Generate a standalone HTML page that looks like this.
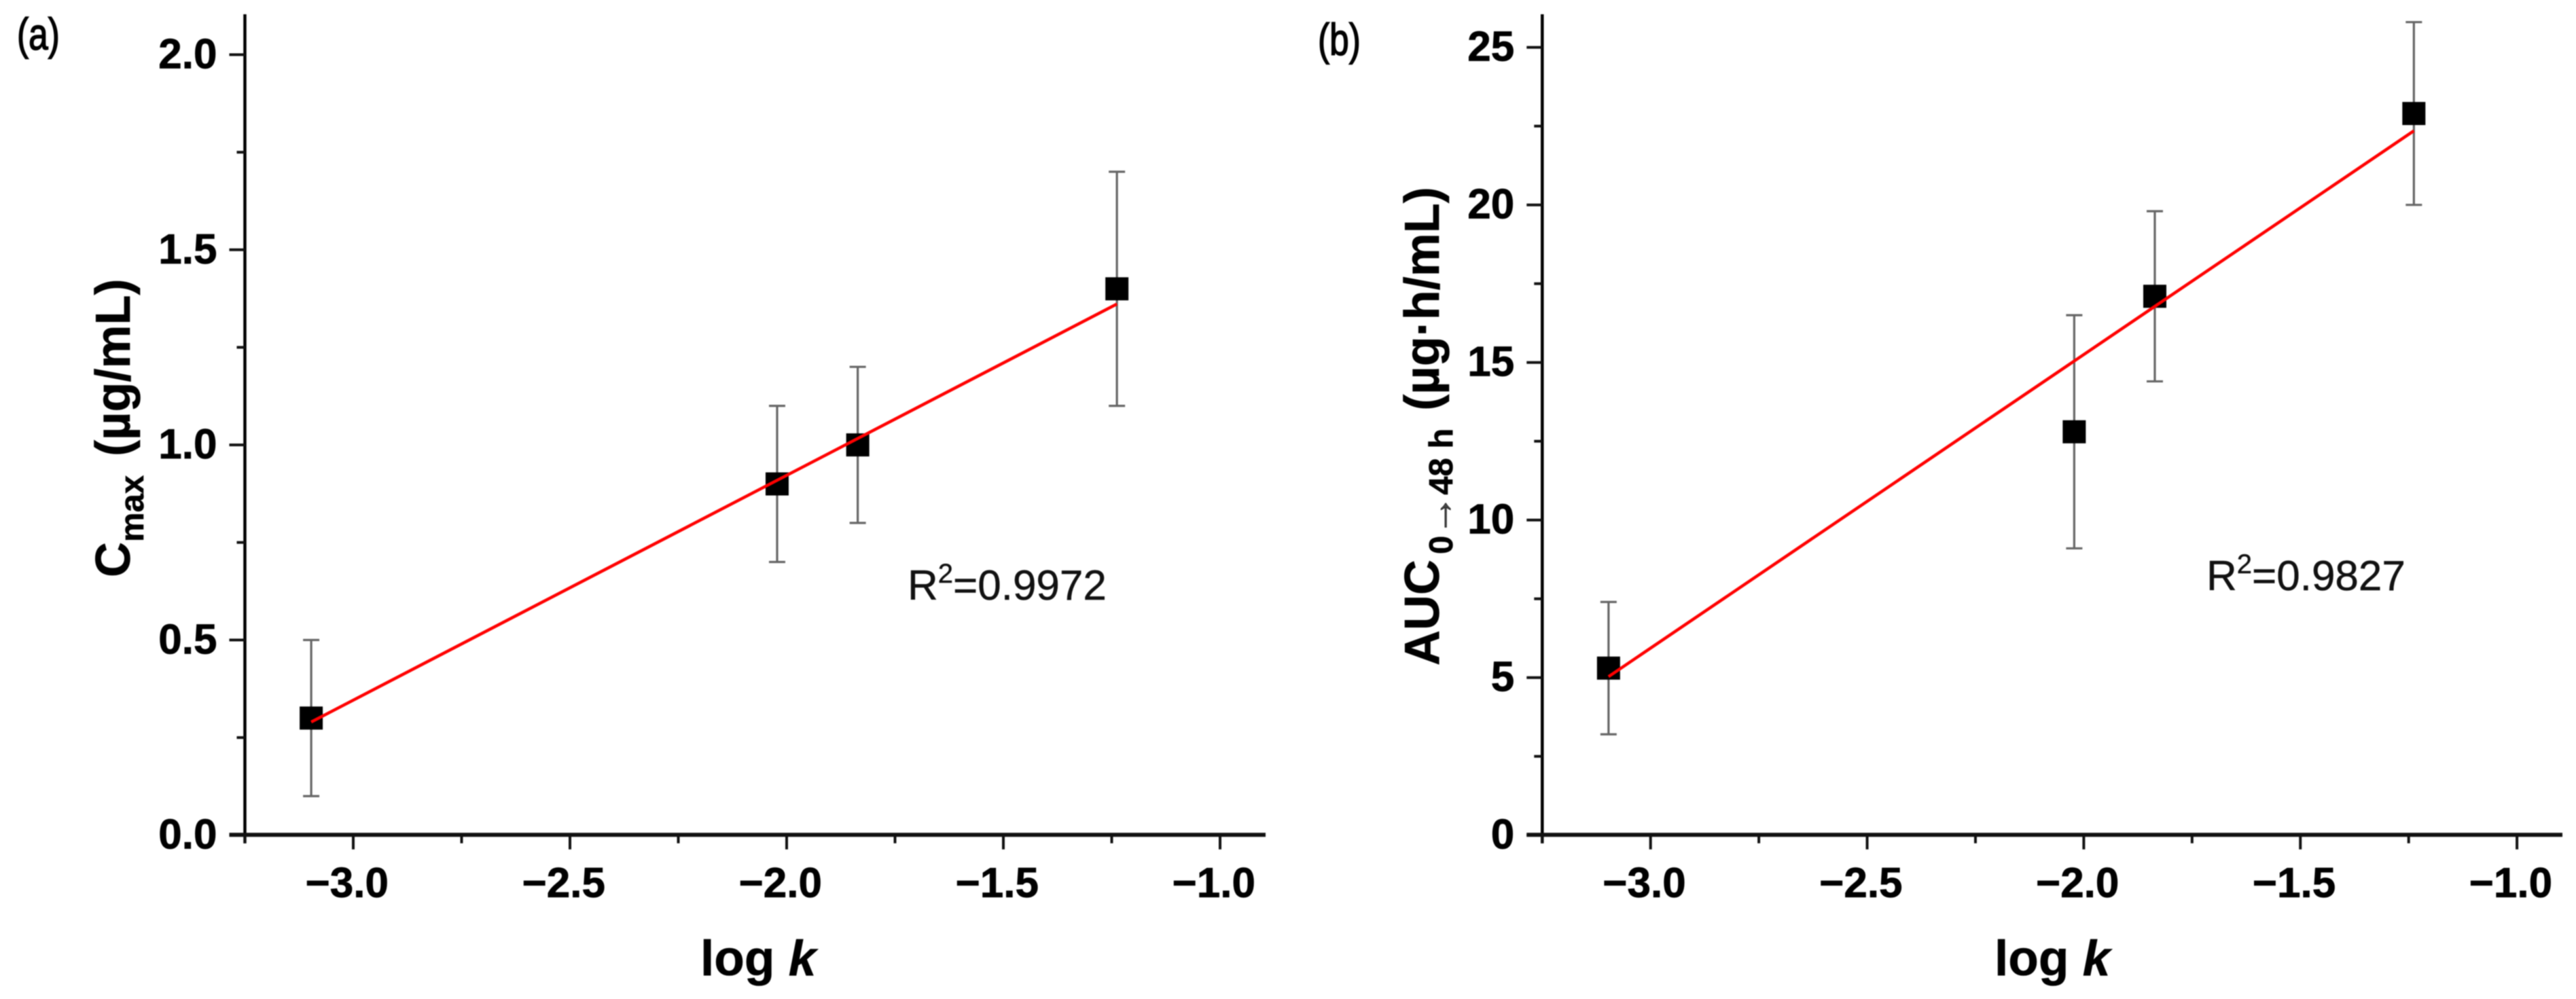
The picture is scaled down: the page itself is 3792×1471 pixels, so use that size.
<!DOCTYPE html>
<html lang="en">
<head>
<meta charset="utf-8">
<title>Cmax and AUC versus log k</title>
<style>
  html, body { margin: 0; padding: 0; background: #fff; }
  body { width: 3792px; height: 1471px; overflow: hidden; }
  svg { display: block; filter: blur(0.8px); }
  text { font-family: "Liberation Sans", Arial, sans-serif; fill: #000; }
  .tick-label { font-size: 62px; font-weight: 700; stroke: #000; stroke-width: 0.8px; }
  .axis-title { font-size: 72px; font-weight: 700; stroke: #000; stroke-width: 0.6px; }
  .sub { font-size: 49px; font-weight: 700; }
  .r2 { font-size: 62px; fill: #111; stroke: #111; stroke-width: 0.5px; }
  .panel-label { font-size: 66px; stroke: #000; stroke-width: 1.6px; }
</style>
</head>
<body>
<svg id="fig" xmlns="http://www.w3.org/2000/svg" width="3792" height="1471" viewBox="0 0 3792 1471">
  <rect width="3792" height="1471" fill="#fff"/>

  <text class="panel-label" transform="translate(25,73) scale(.78,1)">(a)</text>
  <text class="panel-label" transform="translate(1940,81) scale(.78,1)">(b)</text>

  <text class="axis-title" transform="translate(191,850) rotate(-90)">C<tspan class="sub" dy="20">max</tspan><tspan dy="-20" dx="8"> (µg/mL)</tspan></text>
  <text class="axis-title" transform="translate(2118,980) rotate(-90)">AUC<tspan class="sub" dy="20" dx="8">0<tspan font-weight="400" fill="#444" font-size="60">→</tspan>48 h</tspan><tspan dy="-20" dx="6"> (µg·h/mL)</tspan></text>

  <text class="axis-title" x="1031" y="1436" style="font-size:73px">log <tspan font-style="italic">k</tspan></text>
  <text class="axis-title" x="2936" y="1436" style="font-size:73px">log <tspan font-style="italic">k</tspan></text>

  <text class="r2" x="1336" y="883">R<tspan font-size="40" dy="-25">2</tspan><tspan dy="25">=0.9972</tspan></text>
  <text class="r2" x="3248" y="869">R<tspan font-size="40" dy="-25">2</tspan><tspan dy="25">=0.9827</tspan></text>
</svg>

<script>
// Shared data
const logK = [-3.097, -2.022, -1.836, -1.238];
const fitLogK = [-3.097, -1.238];

// Panel (a): Cmax
const cmaxValues = [0.3, 0.9, 1.0, 1.4];
const cmaxLow = [0.1, 0.7, 0.8, 1.1];
const cmaxHigh = [0.5, 1.1, 1.2, 1.7];
const cmaxFit = [0.29, 1.361];
const cmaxMajorTicks = [0, 0.5, 1.0, 1.5, 2.0];
const cmaxTickLabels = ['0.0', '0.5', '1.0', '1.5', '2.0'];
const cmaxMinorTicks = [0.25, 0.75, 1.25, 1.75];

// Panel (b): AUC
const aucValues = [5.3, 12.8, 17.1, 22.9];
const aucLow = [3.2, 9.1, 14.4, 20.0];
const aucHigh = [7.4, 16.5, 19.8, 25.8];
const aucFit = [5.03, 22.35];
const aucMajorTicks = [0, 5, 10, 15, 20, 25];
const aucTickLabels = ['0', '5', '10', '15', '20', '25'];
const aucMinorTicks = [2.5, 7.5, 12.5, 17.5, 22.5];

// Shared x axis ticks
const xMajorTicks = [-3.0, -2.5, -2.0, -1.5, -1.0];
const xTickLabels = ['\u22123.0', '\u22122.5', '\u22122.0', '\u22121.5', '\u22121.0'];
const xMinorTicks = [-3.25, -2.75, -2.25, -1.75, -1.25];

const NS = 'http://www.w3.org/2000/svg';
const fig = document.getElementById('fig');

function make(parent, tag, attrs) {
  const el = document.createElementNS(NS, tag);
  for (const k in attrs) el.setAttribute(k, attrs[k]);
  parent.appendChild(el);
  return el;
}

function drawPanel(cfg) {
  const xScale = v => cfg.x3 + (v + 3) * cfg.xUnit;
  const yScale = v => cfg.y0 - v * cfg.yUnit;
  const axisX = xScale(-3.25);

  const g = make(fig, 'g', {});
  
  

  // Axis lines
  let el = make(g, 'line', { x1: axisX, x2: axisX, y1: 21, y2: cfg.y0 + 12, stroke: '#000', 'stroke-width': 4.5 });
  
  
  el = make(g, 'line', { x1: axisX - 23, x2: cfg.xEnd, y1: cfg.y0 - 0.5, y2: cfg.y0 - 0.5, stroke: '#111', 'stroke-width': 6 });
  
  

  // Y ticks
  cfg.yMajor.forEach((v, i) => {
    const y = yScale(v);
    const t = make(g, 'line', { x1: axisX - 23, x2: axisX, y1: y, y2: y, stroke: '#111', 'stroke-width': 4 });
    
    
    const lab = make(g, 'text', { x: axisX - 41, y: y + 20, 'text-anchor': 'end', class: 'tick-label' });
    lab.textContent = cfg.yLabels[i];
    
    
  });
  cfg.yMinor.forEach(v => {
    const y = yScale(v);
    const t = make(g, 'line', { x1: axisX - 12, x2: axisX, y1: y, y2: y, stroke: '#111', 'stroke-width': 4 });
    
    
  });

  // X ticks
  xMajorTicks.forEach((v, i) => {
    const x = xScale(v);
    const t = make(g, 'line', { x1: x, x2: x, y1: cfg.y0, y2: cfg.y0 + 21, stroke: '#111', 'stroke-width': 4 });
    
    
    const lab = make(g, 'text', { x: x + 52, y: 1321, 'text-anchor': 'end', class: 'tick-label' });
    lab.textContent = xTickLabels[i];
    
    
  });
  xMinorTicks.forEach(v => {
    const x = xScale(v);
    const t = make(g, 'line', { x1: x, x2: x, y1: cfg.y0, y2: cfg.y0 + 12, stroke: '#111', 'stroke-width': 4 });
    
    
  });

  // Error bars
  logK.forEach((k, i) => {
    const x = xScale(k);
    const yl = yScale(cfg.low[i]);
    const yh = yScale(cfg.high[i]);
    const bar = make(g, 'path', {
      d: 'M' + x + ' ' + yh + 'V' + yl + 'M' + (x - 12) + ' ' + yh + 'H' + (x + 12) + 'M' + (x - 12) + ' ' + yl + 'H' + (x + 12),
      stroke: '#666', 'stroke-width': 3.2, fill: 'none'
    });
    
    
  });

  // Markers
  cfg.values.forEach((v, i) => {
    const x = xScale(logK[i]);
    const y = yScale(v);
    const m = make(g, 'rect', { x: x - 17, y: y - 17, width: 34, height: 34, fill: '#000' });
    
    
  });

  // Fit line
  const fit = make(g, 'line', {
    x1: xScale(fitLogK[0]), y1: yScale(cfg.fit[0]),
    x2: xScale(fitLogK[1]), y2: yScale(cfg.fit[1]),
    stroke: '#f00', 'stroke-width': 4.5
  });
  
  
}

drawPanel({
  x3: 520, xUnit: 638, xEnd: 1863, y0: 1229.7, yUnit: 574.6,
  yMajor: cmaxMajorTicks, yLabels: cmaxTickLabels, yMinor: cmaxMinorTicks,
  values: cmaxValues, low: cmaxLow, high: cmaxHigh, fit: cmaxFit
});
drawPanel({
  x3: 2429.7, xUnit: 637.7, xEnd: 3772, y0: 1229.7, yUnit: 46.4,
  yMajor: aucMajorTicks, yLabels: aucTickLabels, yMinor: aucMinorTicks,
  values: aucValues, low: aucLow, high: aucHigh, fit: aucFit
});
</script>
</body>
</html>
